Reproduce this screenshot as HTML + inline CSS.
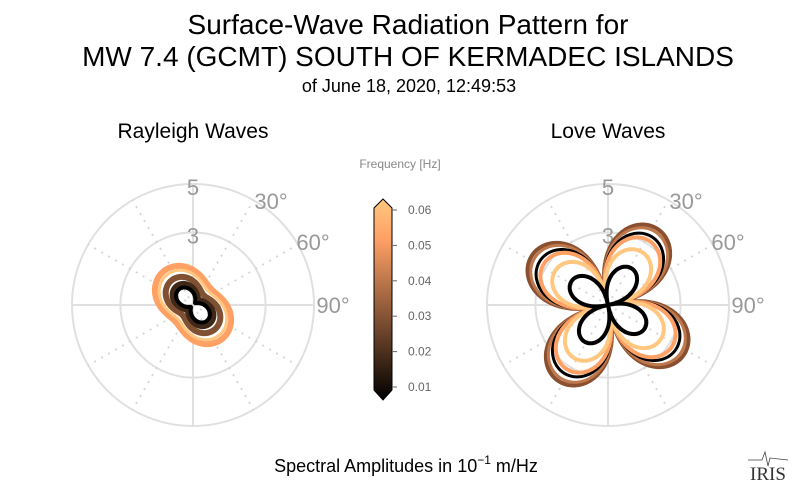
<!DOCTYPE html>
<html><head><meta charset="utf-8"><style>
body{margin:0;background:#fff;width:800px;height:496px;overflow:hidden;font-family:"Liberation Sans",sans-serif}
</style></head><body>
<svg width="800" height="496" xmlns="http://www.w3.org/2000/svg" font-family="Liberation Sans, sans-serif">
<text x="408" y="34" font-size="28" text-anchor="middle">Surface-Wave Radiation Pattern for</text>
<text x="408" y="66" font-size="28" text-anchor="middle">MW 7.4 (GCMT) SOUTH OF KERMADEC ISLANDS</text>
<text x="409" y="92" font-size="18" text-anchor="middle">of June 18, 2020, 12:49:53</text>
<text x="193" y="138" font-size="21" text-anchor="middle">Rayleigh Waves</text>
<text x="608" y="138" font-size="21" text-anchor="middle">Love Waves</text>
<g id="g1"></g><g id="g2"></g>
<text x="400" y="168" font-size="12" fill="#888" text-anchor="middle">Frequency [Hz]</text>
<defs><linearGradient id="cu" x1="0" y1="1" x2="0" y2="0">
<stop offset="0" stop-color="#000"/><stop offset="0.2" stop-color="#402819"/><stop offset="0.4" stop-color="#805033"/><stop offset="0.6" stop-color="#bf784c"/><stop offset="0.8" stop-color="#ffa065"/><stop offset="1" stop-color="#ffc77f"/></linearGradient></defs>
<path d="M374,208 L383,199 L392,208 L392,390 L383,400 L374,390 Z" fill="url(#cu)" stroke="#000" stroke-width="1"/>
<g id="cb" font-size="12" fill="#666"></g>
<text x="406" y="472" font-size="18" text-anchor="middle">Spectral Amplitudes in 10<tspan dy="-8" font-size="12">−1</tspan><tspan dy="8"> m/Hz</tspan></text>
<text x="768" y="480" font-size="19" font-family="Liberation Serif, serif" text-anchor="middle" fill="#333">IRIS</text>
<path d="M748,460 L762,460 L765,452 L768,466 L770,458 L788,460" stroke="#444" fill="none" stroke-width="0.8"/>
</svg>
<script>
const NS="http://www.w3.org/2000/svg";
function el(p,t,a){const e=document.createElementNS(NS,t);for(const k in a)e.setAttribute(k,a[k]);p.appendChild(e);return e;}
const R=121,U=R/5;
function grid(g,cx,cy){
 el(g,'circle',{cx,cy,r:R,fill:'none',stroke:'#e0e0e0','stroke-width':2});
 el(g,'circle',{cx,cy,r:3*U,fill:'none',stroke:'#e0e0e0','stroke-width':2});
 for(let a=0;a<360;a+=30){const t=a*Math.PI/180;const solid=a%90==0;
  el(g,'line',{x1:cx,y1:cy,x2:cx+R*Math.sin(t),y2:cy-R*Math.cos(t),stroke:solid?'#e0e0e0':'#d4d4d4','stroke-width':solid?2:1.8,'stroke-dasharray':solid?'':'2,6'});}
 const lab=[["5",cx,cy-R+11],["3",cx,cy-3*U+11]];
 lab.forEach(l=>{const t=el(g,'text',{x:l[1],y:l[2],'font-size':22,fill:'#999','text-anchor':'middle'});t.textContent=l[0];});
 [[30,"30°",78,-96],[60,"60°",120,-55],[90,"90°",140,8]].forEach(([a,s,dx,dy])=>{
  const e=el(g,'text',{x:cx+dx,y:cy+dy,'font-size':22,fill:'#999','text-anchor':'middle'});e.textContent=s;});
}
function curve(g,cx,cy,f,col,w){let d='';for(let i=0;i<=720;i++){const t=i*Math.PI/360;const r=f(t)*U;
 d+=(i?'L':'M')+(cx+r*Math.sin(t)).toFixed(1)+','+(cy-r*Math.cos(t)).toFixed(1);}
 el(g,'path',{d:d+'Z',fill:'none',stroke:col,'stroke-width':w,'stroke-linejoin':'round'});}
const g1=document.getElementById('g1'),g2=document.getElementById('g2');
grid(g1,193,305);grid(g2,608,305);
const d2r=Math.PI/180;
const ph=137*d2r;
const rc=[[1.0,0.85,'#ffa065',6],[0.85,0.8,'#ffc77f',3],[0.6,0.75,'#805033',6],[0.35,0.7,'#402819',5],[0.12,0.75,'#000',4]];
rc.forEach(([a,b,c,w])=>curve(g1,193,305,t=>a+b*Math.pow(Math.cos(t-ph),2),c,w));
const lc=[[3.75,'#8a5030',4,0.6],[3.6,'#bf784c',3,0.6],[3.35,'#000',3,0.6],[3.15,'#ffa065',4,0.6],[2.6,'#ffc77f',4,0.6],[1.8,'#000',4,0.75]];
lc.forEach(([A,c,w,p])=>curve(g2,608,305,t=>A*Math.pow(Math.abs(Math.cos(2*(t-33*d2r))),p),c,w));
const cb=document.getElementById('cb');
for(let i=0;i<6;i++){const y=387-i*35.4;el(cb,'line',{x1:392,y1:y,x2:397,y2:y,stroke:'#666'});
 const t=el(cb,'text',{x:408,y:y+4});t.textContent='0.0'+(i+1);}
</script>
</body></html>
